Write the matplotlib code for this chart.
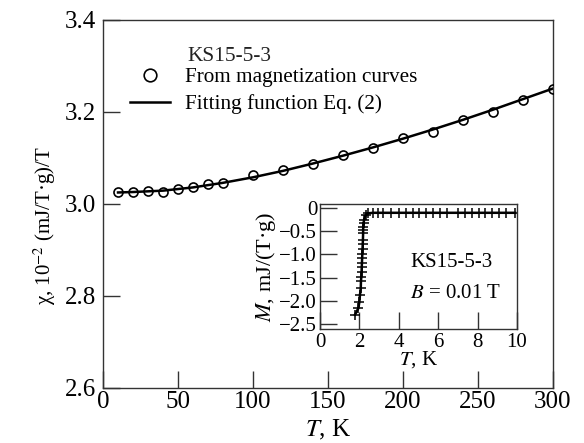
import matplotlib
matplotlib.use('Agg')
import matplotlib.pyplot as plt

plt.rcParams['font.family'] = 'Liberation Serif'
plt.rcParams['mathtext.fontset'] = 'stix'

# main panel: susceptibility vs temperature
T_pts = [10, 20, 30, 40, 50, 60, 70, 80, 100, 120, 140, 160, 180, 200,
         220, 240, 260, 280, 300]
chi_pts = [3.025, 3.025, 3.028, 3.027, 3.033, 3.036, 3.043, 3.046, 3.062,
           3.074, 3.087, 3.106, 3.121, 3.143, 3.157, 3.183, 3.201, 3.226, 3.251]

T_fit = [10, 20, 40, 60, 80, 100, 120, 140, 160, 180, 200, 220, 240, 260, 280, 300]
chi_fit = [3.025, 3.026, 3.029, 3.036, 3.046, 3.058, 3.072, 3.088, 3.105,
           3.123, 3.142, 3.162, 3.183, 3.205, 3.228, 3.251]

# inset: magnetization vs temperature
T_in = [1.78, 1.95, 2.00, 2.03, 2.07, 2.08, 2.10, 2.11, 2.12, 2.13, 2.14, 2.15,
        2.16, 2.17, 2.18, 2.19, 2.19, 2.20, 2.21, 2.24, 2.33, 2.45,
        2.7, 2.95, 3.2, 3.6, 4.0, 4.35, 4.7, 5.05, 5.4, 5.75, 6.1, 6.45,
        7.0, 7.35, 7.7, 8.05, 8.4, 8.75, 9.1, 9.45, 9.9]
M_in = [-2.30, -2.16, -2.02, -1.87, -1.73, -1.58, -1.48, -1.38, -1.28, -1.18,
        -1.08, -0.98, -0.88, -0.78, -0.68, -0.54, -0.47, -0.40, -0.33, -0.25,
        -0.14, -0.11,
        -0.10, -0.10, -0.10, -0.10, -0.10, -0.10, -0.10, -0.10, -0.10, -0.10,
        -0.10, -0.10, -0.10, -0.10, -0.10, -0.10, -0.10, -0.10, -0.10, -0.10, -0.10]

fig = plt.figure(figsize=(5.84, 4.43), dpi=100)
ax = fig.add_axes([0.1764, 0.1242, 0.7705, 0.8307])

ax.plot(T_fit, chi_fit, 'k-', lw=1.8, label='Fitting function Eq. (2)', zorder=2)
ax.plot(T_pts, chi_pts, 'ko', markerfacecolor='none', markersize=6.5, mew=1.2,
        label='From magnetization curves', zorder=3)

ax.set_xlim(0, 300)
ax.set_ylim(2.6, 3.4)
ax.set_xticks([0, 50, 100, 150, 200, 250, 300])
ax.set_yticks([2.6, 2.8, 3.0, 3.2, 3.4])
ax.set_yticklabels(['2.6', '2.8', '3.0', '3.2', '3.4'])
ax.tick_params(direction='in', length=12, width=1, labelsize=18, color='#333333')
ax.tick_params(axis='x', pad=2)
ax.tick_params(axis='y', pad=5)
for s in ax.spines.values():
    s.set_color('#333333')
    s.set_linewidth(1)

ax.set_xlabel(r'$T$, K', fontsize=18, labelpad=4)
ax.set_ylabel(r'χ, 10$^{-2}$ (mJ/T·g)/T', fontsize=15)
ax.yaxis.set_label_coords(-0.10, 0.44)

h, l = ax.get_legend_handles_labels()
ax.legend(h[::-1], l[::-1], loc='upper left', bbox_to_anchor=(0.06, 0.872),
          frameon=False, fontsize=15.3, borderpad=0, borderaxespad=0,
          handlelength=1.9, handletextpad=0.7, labelspacing=0.34, markerscale=1.4)
ax.text(0.1867, 0.902, 'KS15-5-3', transform=ax.transAxes, fontsize=15.3,
        va='center', ha='left', color='#222222')

# inset
ins = fig.add_axes([0.5479, 0.2573, 0.3374, 0.2822])
ins.plot(T_in, M_in, 'k-', lw=1.8, marker='+', markersize=7, mew=1.1)
ins.set_xlim(0, 10)
ins.set_ylim(-2.61, 0.09)
ins.set_xticks([0, 2, 4, 6, 8, 10])
ins.set_yticks([0, -0.5, -1.0, -1.5, -2.0, -2.5])
ins.set_yticklabels(['0', '\u22120.5', '\u22121.0', '\u22121.5', '\u22122.0', '\u22122.5'])
ins.tick_params(direction='in', length=12, width=1, labelsize=15, color='#333333')
ins.tick_params(axis='x', pad=3)
ins.tick_params(axis='y', pad=2)
for s in ins.spines.values():
    s.set_color('#333333')
    s.set_linewidth(1)
ins.set_xlabel(r'$T$, K', fontsize=15, labelpad=-2)
ins.set_ylabel(r'$M$, mJ/(T·g)', fontsize=16, labelpad=1)
ins.text(0.457, 0.536, 'KS15-5-3', transform=ins.transAxes, fontsize=15,
         va='center', ha='left')
ins.text(0.457, 0.288, r'$B$ = 0.01 T', transform=ins.transAxes, fontsize=15,
         va='center', ha='left')

fig.savefig('out.png', dpi=100)
